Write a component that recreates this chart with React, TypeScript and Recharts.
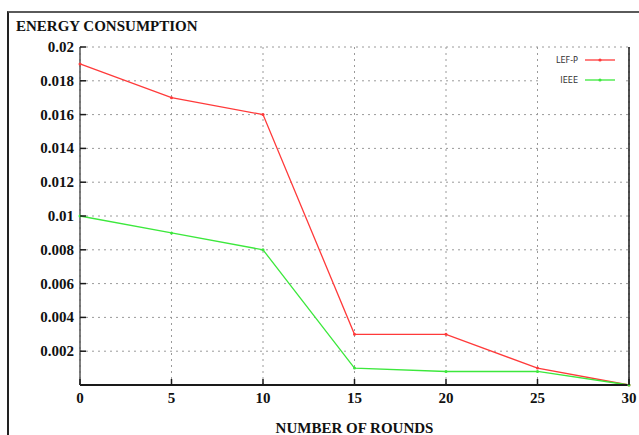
import React from 'react';
import { LineChart, Line, XAxis, YAxis, CartesianGrid, Legend } from 'recharts';

const rounds = [0, 5, 10, 15, 20, 25, 30];
const lefP = [0.019, 0.017, 0.016, 0.003, 0.003, 0.001, 0];
const ieee = [0.01, 0.009, 0.008, 0.001, 0.0008, 0.0008, 0];
const xTicks = [0, 5, 10, 15, 20, 25, 30];
const yTicks = [0.002, 0.004, 0.006, 0.008, 0.01, 0.012, 0.014, 0.016, 0.018, 0.02];
const yTickLabels = ['0.002', '0.004', '0.006', '0.008', '0.01', '0.012', '0.014', '0.016', '0.018', '0.02'];
const seriesNames = ['LEF-P', 'IEEE'];
const seriesColors = ['#ff3a3a', '#3ce83c'];
const yTitle = 'ENERGY CONSUMPTION';
const xTitle = 'NUMBER OF ROUNDS';

const data = rounds.map((r, i) => ({ round: r, lefP: lefP[i], ieee: ieee[i] }));

const FONT = "'Liberation Serif', 'Times New Roman', serif";
const AXIS = '#1a1a1a';

const XTickBottom = (props: any) => {
  const { x, y, payload } = props;
  return (
    <g>
      <line x1={x} y1={y} x2={x} y2={y - 6} stroke={AXIS} strokeWidth={1.5} />
      <text x={x} y={y + 13} textAnchor="middle" dominantBaseline="central"
        fontFamily={FONT} fontWeight="bold" fontSize={15} fill="#111">{payload.value}</text>
    </g>
  );
};

const XTickTop = (props: any) => {
  const { x, y } = props;
  return <line x1={x} y1={y} x2={x} y2={y + 6} stroke={AXIS} strokeWidth={1.5} />;
};

const YTickLeft = (props: any) => {
  const { x, y, payload } = props;
  const idx = yTicks.indexOf(payload.value);
  const label = idx >= 0 ? yTickLabels[idx] : String(payload.value);
  return (
    <g>
      <line x1={x} y1={y} x2={x + 6} y2={y} stroke={AXIS} strokeWidth={1.5} />
      <text x={x - 6} y={y} textAnchor="end" dominantBaseline="central"
        fontFamily={FONT} fontWeight="bold" fontSize={15} fill="#111">{label}</text>
    </g>
  );
};

const YTickRight = (props: any) => {
  const { x, y } = props;
  return <line x1={x} y1={y} x2={x - 6} y2={y} stroke={AXIS} strokeWidth={1.5} />;
};

const LegendContent = () => (
  <div style={{ background: '#fff', padding: '2px 0' }}>
    {seriesNames.map((n, i) => (
      <div key={n} style={{ display: 'flex', alignItems: 'center', height: 20 }}>
        <span style={{ width: 40, textAlign: 'right', fontSize: 9, color: '#333',
          fontFamily: "'DejaVu Sans Condensed', 'Liberation Sans Narrow', sans-serif" }}>{n}</span>
        <svg width={40} height={8} style={{ marginLeft: 6 }}>
          <line x1={1} y1={4} x2={31} y2={4} stroke={seriesColors[i]} strokeWidth={1.3} />
          <circle cx={16} cy={4} r={1.6} fill={seriesColors[i]} />
        </svg>
      </div>
    ))}
  </div>
);

export default function App() {
  return (
    <div style={{ position: 'absolute', left: 0, top: 0, width: 639, height: 435, overflow: 'hidden', background: '#fff' }}>
      <div style={{ position: 'absolute', left: 7, top: 11, width: 640, height: 430,
        borderTop: '2px solid #5a5a5a', borderLeft: '2px solid #222' }} />
      <div style={{ position: 'absolute', left: 16, top: 18, fontFamily: FONT, fontWeight: 'bold',
        fontSize: 15, color: '#111', whiteSpace: 'nowrap' }}>{yTitle}</div>
      <div style={{ position: 'absolute', left: 0, top: 0 }}>
        <LineChart width={639} height={435} data={data} margin={{ top: 47, right: 0, left: 0, bottom: 0 }}>
          <CartesianGrid stroke="#9a9a9a" strokeDasharray="2 4" strokeWidth={1} />
          <XAxis dataKey="round" type="number" domain={[0, 30]} ticks={xTicks} height={50}
            tickSize={0} tickMargin={0} tickLine={false} tick={<XTickBottom />}
            axisLine={{ stroke: AXIS, strokeWidth: 2 }} interval={0}
            label={{ value: xTitle, position: 'insideBottom', offset: 2, fontFamily: FONT,
              fontWeight: 'bold', fontSize: 15, fill: '#111' }} />
          <XAxis xAxisId="top" orientation="top" dataKey="round" type="number" domain={[0, 30]} ticks={xTicks}
            height={0} tickSize={0} tickMargin={0} tickLine={false} tick={<XTickTop />}
            axisLine={{ stroke: AXIS, strokeWidth: 1.5 }} interval={0} />
          <YAxis type="number" domain={[0, 0.02]} ticks={yTicks} width={80} tickSize={0} tickMargin={0}
            tickLine={false} tick={<YTickLeft />} axisLine={{ stroke: '#555', strokeWidth: 1.5 }} interval={0} />
          <YAxis yAxisId="right" orientation="right" type="number" domain={[0, 0.02]} ticks={yTicks} width={10}
            tickSize={0} tickMargin={0} tickLine={false} tick={<YTickRight />}
            axisLine={{ stroke: AXIS, strokeWidth: 1.5 }} interval={0} />
          <Legend layout="vertical" align="center" verticalAlign="middle" content={<LegendContent />}
            wrapperStyle={{ top: 48, left: 540, width: 82 }} />
          <Line dataKey="lefP" name={seriesNames[0]} stroke={seriesColors[0]} strokeWidth={1.3}
            dot={{ r: 1.5, fill: seriesColors[0], stroke: 'none' }} isAnimationActive={false} />
          <Line dataKey="ieee" name={seriesNames[1]} stroke={seriesColors[1]} strokeWidth={1.3}
            dot={{ r: 1.5, fill: seriesColors[1], stroke: 'none' }} isAnimationActive={false} />
        </LineChart>
      </div>
    </div>
  );
}
